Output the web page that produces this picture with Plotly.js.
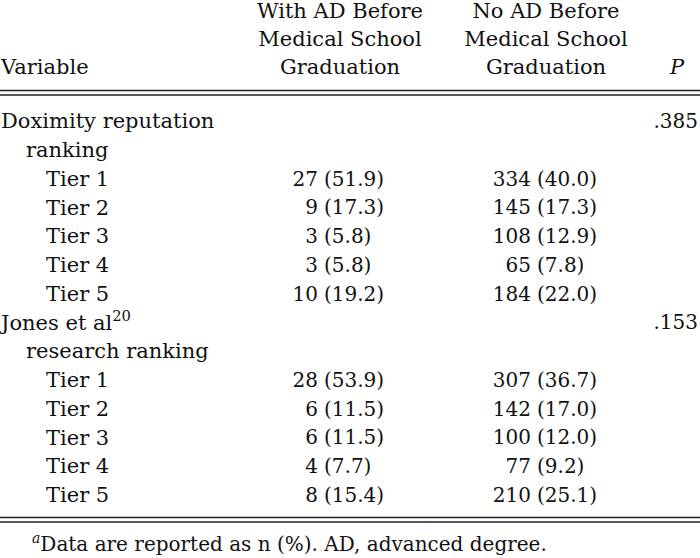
<!DOCTYPE html>
<html><head><meta charset="utf-8">
<script src="https://cdn.plot.ly/plotly-3.0.1.min.js"></script>
<style>html,body{margin:0;padding:0;background:#fff}</style>
</head><body><div id="chart" style="width:700px;height:558px"></div>
<script>
// ---- data ----
const headerVariable = "Variable";
const headerWith = ["With AD Before", "Medical School", "Graduation"];
const headerNo = ["No AD Before", "Medical School", "Graduation"];
const headerP = "<i>P</i>";
const rowLabels = ["Doximity reputation", "ranking", "Tier 1", "Tier 2", "Tier 3", "Tier 4", "Tier 5",
  "Jones et al<sup>20</sup>", "research ranking", "Tier 1", "Tier 2", "Tier 3", "Tier 4", "Tier 5"];
const rowLevel = [0, 1, 2, 2, 2, 2, 2, 0, 1, 2, 2, 2, 2, 2];
const withN = [null, null, 27, 9, 3, 3, 10, null, null, 28, 6, 6, 4, 8];
const withPct = [null, null, 51.9, 17.3, 5.8, 5.8, 19.2, null, null, 53.9, 11.5, 11.5, 7.7, 15.4];
const noN = [null, null, 334, 145, 108, 65, 184, null, null, 307, 142, 100, 77, 210];
const noPct = [null, null, 40.0, 17.3, 12.9, 7.8, 22.0, null, null, 36.7, 17.0, 12.0, 9.2, 25.1];
const pValues = [".385", "", "", "", "", "", "", ".153", "", "", "", "", "", ""];
const footnote = "<sup><i>a</i></sup>Data are reported as n (%). AD, advanced degree.";

// ---- layout constants ----
const W = 700, H = 558;
const FONT = {family: "DejaVu Serif", size: 21, color: "#111"};
const NUMFONT = {family: "DejaVu Serif", size: 20, color: "#111"};
const NOTEFONT = {family: "DejaVu Serif", size: 20, color: "#111"};
const headerY0 = 12.5, headerStep = 28.3;
const rowY0 = 123, rowStep = 28.75;
const indent = [1, 26, 46];
const colWithCountRight = 318, colWithPctLeft = 324;
const colNoCountRight = 531, colNoPctLeft = 537;
const colWithCenter = 340, colNoCenter = 546;
const colPRight = 698, colPCenter = 677;

const rowY = rowLabels.map((_, i) => rowY0 + i * rowStep);
const dataRows = rowLabels.map((_, i) => i).filter(i => withN[i] !== null);
const pRows = rowLabels.map((_, i) => i).filter(i => pValues[i] !== "");

function textTrace(xs, ys, texts, pos, font) {
  return {type: "scatter", mode: "text", x: xs, y: ys, text: texts, textposition: pos,
    textfont: font || FONT, hoverinfo: "skip", showlegend: false, cliponaxis: false};
}

const traces = [
  textTrace([indent[0]], [headerY0 + 2 * headerStep], [headerVariable], "middle right"),
  textTrace(headerWith.map(() => colWithCenter), headerWith.map((_, i) => headerY0 + i * headerStep), headerWith, "middle center"),
  textTrace(headerNo.map(() => colNoCenter), headerNo.map((_, i) => headerY0 + i * headerStep), headerNo, "middle center"),
  textTrace([colPCenter], [headerY0 + 2 * headerStep], [headerP], "middle center"),
  textTrace(rowLabels.map((_, i) => indent[rowLevel[i]]), rowY, rowLabels, "middle right"),
  textTrace(dataRows.map(() => colWithCountRight), dataRows.map(i => rowY[i]), dataRows.map(i => String(withN[i])), "middle left", NUMFONT),
  textTrace(dataRows.map(() => colWithPctLeft), dataRows.map(i => rowY[i]), dataRows.map(i => "(" + withPct[i].toFixed(1) + ")"), "middle right", NUMFONT),
  textTrace(dataRows.map(() => colNoCountRight), dataRows.map(i => rowY[i]), dataRows.map(i => String(noN[i])), "middle left", NUMFONT),
  textTrace(dataRows.map(() => colNoPctLeft), dataRows.map(i => rowY[i]), dataRows.map(i => "(" + noPct[i].toFixed(1) + ")"), "middle right", NUMFONT),
  textTrace(pRows.map(() => colPRight), pRows.map(i => rowY[i]), pRows.map(i => pValues[i]), "middle left", NUMFONT),
  textTrace([32], [546], [footnote], "middle right", NOTEFONT)
];

const rule = (y) => ({type: "line", xref: "x", yref: "y", x0: 0, x1: W, y0: y, y1: y, line: {color: "#222", width: 1.5}});

const layout = {
  width: W, height: H,
  margin: {l: 0, r: 0, t: 0, b: 0},
  paper_bgcolor: "#fff", plot_bgcolor: "#fff",
  xaxis: {range: [0, W], visible: false, fixedrange: true},
  yaxis: {range: [H, 0], visible: false, fixedrange: true},
  shapes: [rule(90.5), rule(95), rule(517.5), rule(522)],
  font: FONT
};

Plotly.newPlot("chart", traces, layout, {staticPlot: true, displayModeBar: false});
</script></body></html>
